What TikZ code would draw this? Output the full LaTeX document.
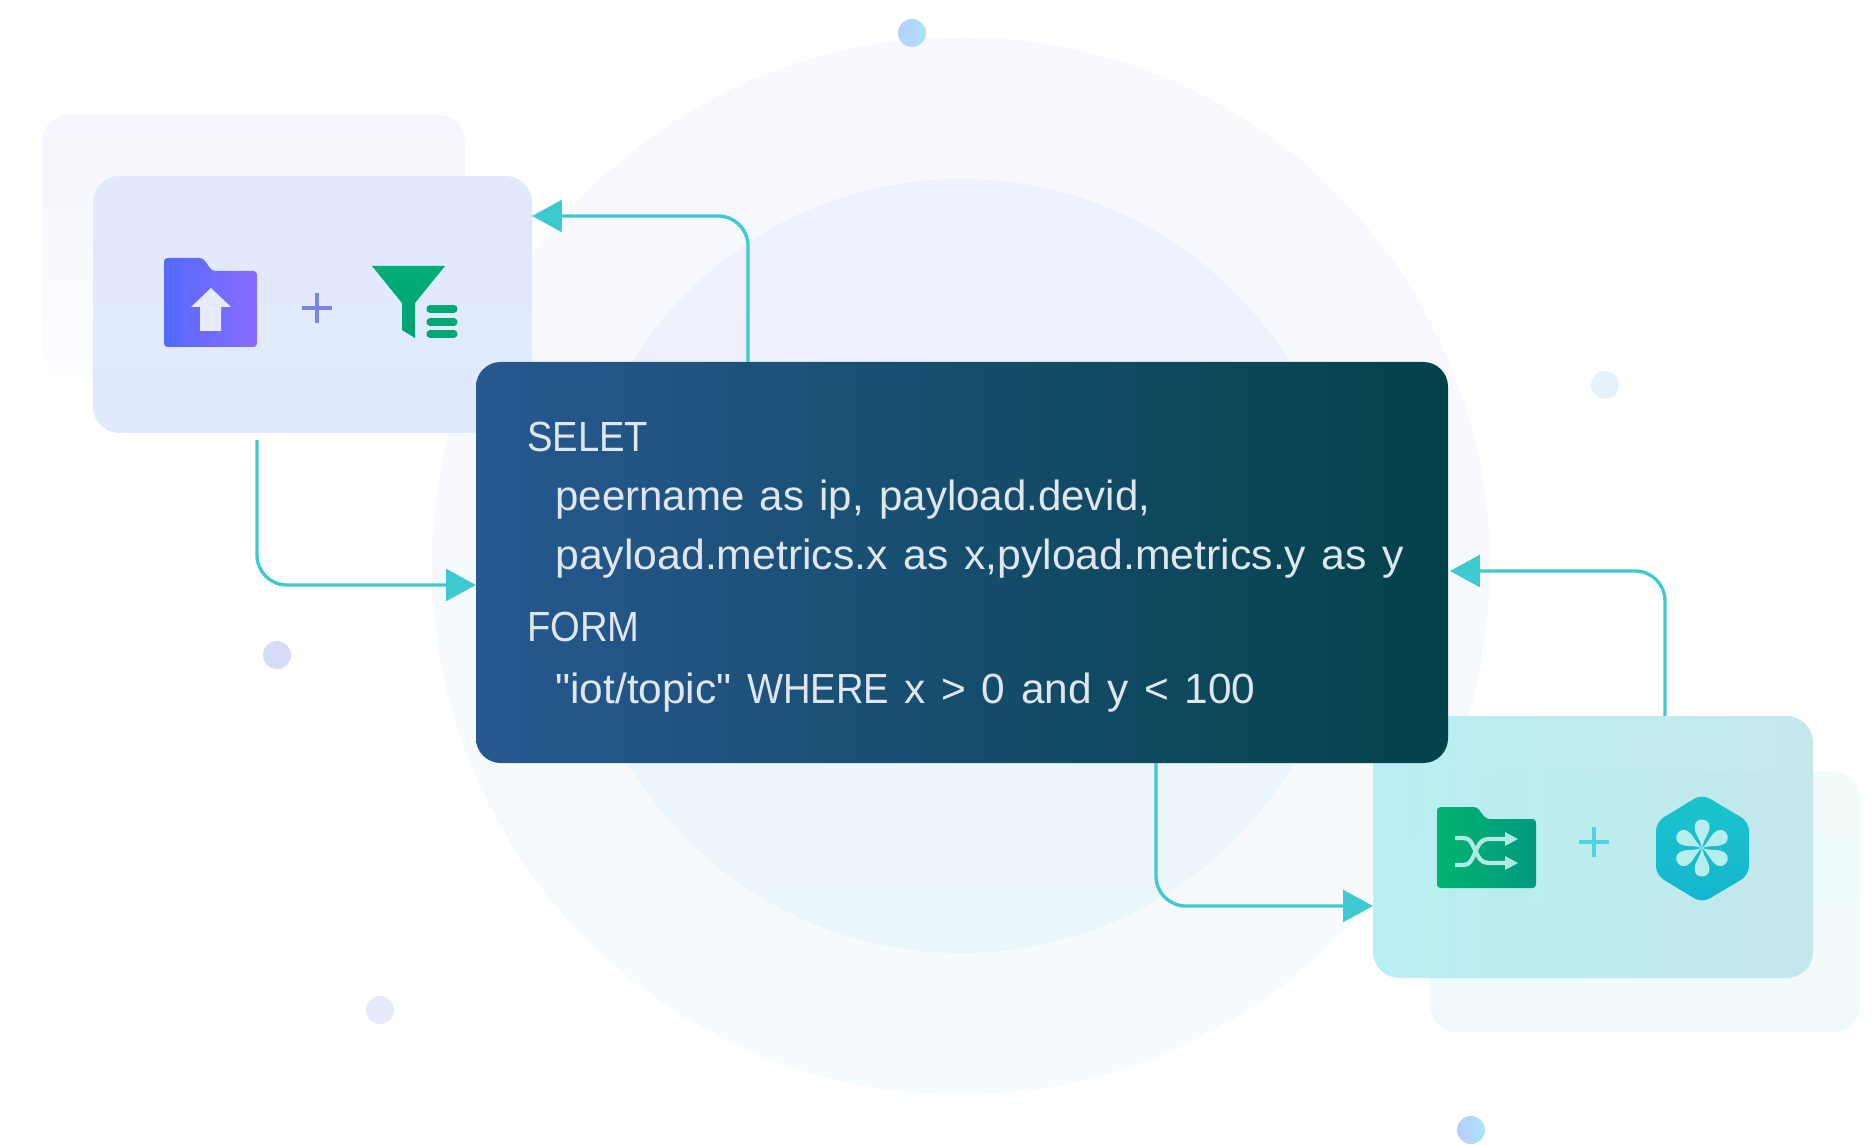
\documentclass[tikz,border=0pt]{standalone}
\usepackage{fontspec}
\newfontfamily\codefont[WordSpace=1.32,FakeStretch=1.006]{Liberation Sans}
\usetikzlibrary{arrows.meta}
\definecolor{flowcol}{HTML}{3EC9D0}
\definecolor{sqlleft}{HTML}{28588F}
\definecolor{sqlright}{HTML}{04424A}
\definecolor{petalcol}{HTML}{B8EDEE}
\definecolor{shufflecol}{HTML}{ADEBE2}
\newcommand{\pxu}{0.02cm}
\newcommand{\capword}[1]{\scalebox{0.9}[1]{#1}}
\begin{document}
\begin{tikzpicture}[x=0.02cm,y=-0.02cm,
    panel/.style={inner sep=0pt,outer sep=0pt,rounded corners=15pt},
    flowline/.style={flowcol,line width=1.9pt,rounded corners=17pt,-{Triangle[length=17pt,width=18pt]}},
    codetext/.style={anchor=base west,inner sep=0pt,text=white!85!sqlleft,font=\codefont\fontsize{24}{24}\selectfont},
    dot/.style={circle,inner sep=0pt,minimum size=28*\pxu},
    bluedot/.style={dot,shading angle=135,left color={rgb,255:red,182;green,206;blue,252},right color={rgb,255:red,172;green,226;blue,250}},
    plusbar/.style={line width=2.4pt}]
  \useasboundingbox (0,0) rectangle (1874,1145);
  \shade [top color={rgb,255:red,248;green,248;blue,254}, bottom color={rgb,255:red,246;green,251;blue,253}] (961,566) circle (529);
  \shade [top color={rgb,255:red,238;green,240;blue,253}, bottom color={rgb,255:red,235;green,246;blue,250}] (961,566) circle (387);

  \node (dotA) [bluedot] at (912,33) {};
  \node (dotB) [dot,fill={rgb,255:red,230;green,242;blue,251}] at (1605,385) {};
  \node (dotC) [dot,fill={rgb,255:red,214;green,219;blue,250}] at (277,655) {};
  \node (dotD) [dot,fill={rgb,255:red,232;green,234;blue,252}] at (380,1010) {};
  \node (dotE) [bluedot] at (1471,1130) {};

  \node (srcback) [panel,minimum width=423*\pxu,minimum height=262*\pxu,
    top color={rgb,255:red,245;green,246;blue,253},bottom color={rgb,255:red,252;green,253;blue,255}] at (253.5,246) {};
  \node (srcbox) [panel,minimum width=439*\pxu,minimum height=257*\pxu,
    top color={rgb,255:red,227;green,233;blue,252},bottom color={rgb,255:red,225;green,234;blue,253}] at (312.5,304.5) {};
  \node (dstback) [panel,minimum width=430*\pxu,minimum height=261*\pxu,
    top color={rgb,255:red,240;green,251;blue,250},bottom color={rgb,255:red,240;green,250;blue,252}] at (1645,901.5) {};
  \node (dstbox) [panel,opacity=0.93,minimum width=440*\pxu,minimum height=262*\pxu,shading angle=125,
    left color={rgb,255:red,180;green,239;blue,242},right color={rgb,255:red,193;green,230;blue,236}] at (1593,847) {};
  \node (sqlbox) [panel,rounded corners=14pt,minimum width=972*\pxu,minimum height=401*\pxu,shading angle=110,
    left color=sqlleft,right color=sqlright] at (962,562.5) {};

  \node (lineA) [codetext] at (527,452) {\capword{SELET}};
  \node (lineB) [codetext] at (555,511) {\scalebox{0.99}[1]{peername as ip, payload.devid,}};
  \node (lineC) [codetext] at (555,569) {\scalebox{1.0075}[1]{payload.metrics.x as x,pyload.metrics.y as y}};
  \node (lineD) [codetext] at (527,642) {\capword{FORM}};
  \node (lineE) [codetext] at (555,703) {"iot/topic" \capword{WHERE} x > 0 and y < 100};

  \coordinate (bendA) at (748,216);
  \coordinate (startB) at (257,440);
  \coordinate (bendB) at (257,585);
  \coordinate (bendC) at (1156,906);
  \coordinate (bendD) at (1665,571);
  \draw [flowline] (bendA |- sqlbox.north) -- (bendA) -- (bendA -| srcbox.east);
  \draw [flowline] (startB) -- (bendB) -- (bendB -| sqlbox.west);
  \draw [flowline] (bendC |- sqlbox.south) -- (bendC) -- (bendC -| dstbox.west);
  \draw [flowline,shorten >=2*\pxu] (bendD |- dstbox.north) -- (bendD) -- (bendD -| sqlbox.east);

  \shade [rounded corners=2pt,shading angle=135,left color={rgb,255:red,84;green,105;blue,255},right color={rgb,255:red,139;green,108;blue,255}]
    (164,258) -- (203,258) -- (212,271) -- (257,271) -- (257,347) -- (164,347) -- cycle;
  \fill [fill={rgb,255:red,230;green,236;blue,253}]
    (211,288) -- (231,307) -- (221,307) -- (221,331) -- (200,331) -- (200,307) -- (191,307) -- cycle;
  \draw [plusbar,color={rgb,255:red,123;green,131;blue,232}] (302,308) -- (332,308) (317,293) -- (317,323);
  \shade [top color={rgb,255:red,0;green,174;blue,117},bottom color={rgb,255:red,0;green,160;blue,115}]
    (372,266) -- (445,266) -- (415,303) -- (415,338) -- (402,330) -- (402,303) -- cycle;
  \foreach \ypos in {309,322,334}
    \draw [line width=4pt,line cap=round,color={rgb,255:red,0;green,168;blue,115}] (430,\ypos) -- (454,\ypos);

  \shade [rounded corners=2pt,shading angle=135,left color={rgb,255:red,0;green,180;blue,110},right color={rgb,255:red,0;green,153;blue,127}]
    (1437,807) -- (1477,807) -- (1486,819) -- (1536,819) -- (1536,888) -- (1437,888) -- cycle;
  \draw [shufflecol,line width=2.4pt] (1455,838) -- (1464,838) .. controls (1476,838) and (1474,863) .. (1488,863) -- (1506,863);
  \draw [shufflecol,line width=2.4pt] (1455,865) -- (1464,865) .. controls (1476,865) and (1474,839) .. (1488,839) -- (1506,839);
  \fill [shufflecol] (1518,839) -- (1505,832) -- (1505,846) -- cycle;
  \fill [shufflecol] (1518,863) -- (1505,856) -- (1505,870) -- cycle;
  \draw [plusbar,color={rgb,255:red,79;green,211;blue,224}] (1579,842) -- (1609,842) (1594,827) -- (1594,857);
  \shade [rounded corners=5pt,top color={rgb,255:red,27;green,197;blue,204},bottom color={rgb,255:red,20;green,181;blue,207}]
    (1702,794) -- (1749,822) -- (1749,875) -- (1702,903) -- (1656,875) -- (1656,822) -- cycle;
  \foreach \ang in {0,60,...,300}
    \fill [petalcol,shift={(1702,848)},rotate=\ang] (0,0) .. controls (-2,-10) and (-7.5,-14) .. (-7.5,-21)
      .. controls (-7.5,-31) and (7.5,-31) .. (7.5,-21) .. controls (7.5,-14) and (2,-10) .. (0,0);
\end{tikzpicture}
\end{document}
